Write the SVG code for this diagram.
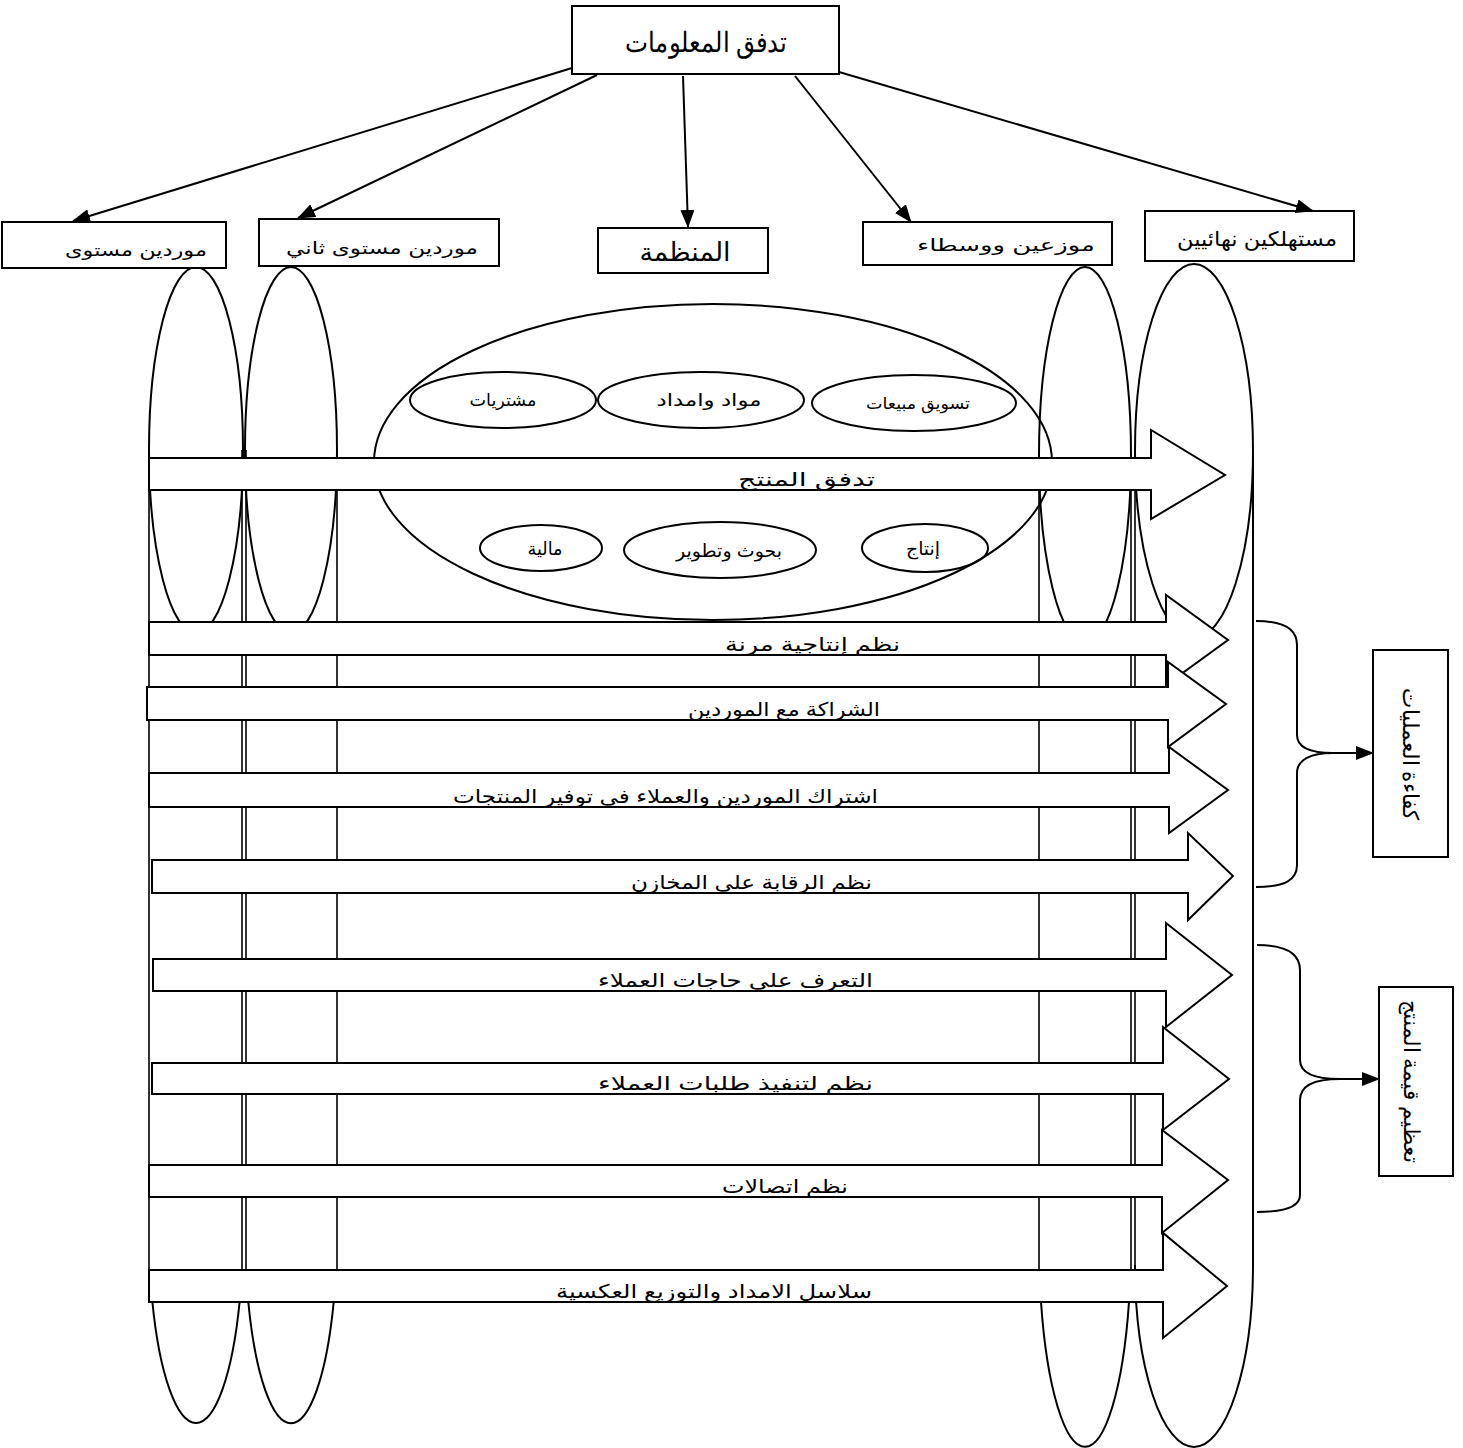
<svg xmlns="http://www.w3.org/2000/svg" width="1463" height="1448" viewBox="0 0 1463 1448">
  <style>
    .ln{fill:none;stroke:#000;stroke-width:2}
    .side{fill:none;stroke:#000;stroke-width:1.6}
    .box{fill:#fff;stroke:#000;stroke-width:2}
    .band{fill:#fff;stroke:#000;stroke-width:2;stroke-linejoin:miter}
    .t{font-family:'Liberation Sans','DejaVu Sans',sans-serif;fill:#000}
    .s{font-family:'Liberation Serif','DejaVu Serif',serif;fill:#000}
  </style>
  <defs>
    <marker id="ah" markerUnits="userSpaceOnUse" markerWidth="18" markerHeight="14" refX="17" refY="7" orient="auto">
      <path d="M0,0 L18,7 L0,14 z" fill="#000"/>
    </marker>
  </defs>
  <rect width="1463" height="1448" fill="#fff"/>

  <!-- supply-chain columns (tall ellipses with straight sides) -->
  <g id="col-tier1">
    <ellipse class="ln" cx="196" cy="450" rx="47" ry="183"/>
    <path class="side" d="M149,450 V1302 M242,450 V1302"/>
    <path class="ln" d="M152.4,1302 A47,193 0 0 0 239.6,1302"/>
  </g>
  <g id="col-tier2">
    <ellipse class="ln" cx="291" cy="450" rx="46" ry="183"/>
    <path class="side" d="M246,450 V1302 M337,450 V1302"/>
    <path class="ln" d="M248.3,1302 A46,193 0 0 0 333.7,1302"/>
  </g>
  <g id="col-distributors">
    <ellipse class="ln" cx="1085" cy="455" rx="46" ry="188"/>
    <path class="side" d="M1039,455 V1302 M1131,455 V1302"/>
    <path class="ln" d="M1041,1302 A46,204.5 0 0 0 1129,1302"/>
  </g>
  <g id="col-consumers">
    <ellipse class="ln" cx="1194" cy="451" rx="59" ry="187"/>
    <path class="side" d="M1135,451 V1302"/>
    <path class="ln" d="M1253,451 V1265"/>
    <path class="ln" d="M1253,1265 A59,182 0 0 1 1135,1265"/>
  </g>

  <!-- organisation and its functions -->
  <g id="org-functions">
    <ellipse class="ln" cx="713" cy="462" rx="339" ry="158"/>
  </g>
  <g id="fn-purchasing">
    <ellipse class="ln" cx="503" cy="400" rx="93" ry="28"/>
    <text class="t" x="503" y="406" font-size="17" text-anchor="middle" textLength="67" lengthAdjust="spacingAndGlyphs">مشتريات</text>
  </g>
  <g id="fn-logistics">
    <ellipse class="ln" cx="701" cy="400" rx="103" ry="28"/>
    <text class="t" x="709" y="406" font-size="17" text-anchor="middle" textLength="105" lengthAdjust="spacingAndGlyphs">مواد وامداد</text>
  </g>
  <g id="fn-marketing">
    <ellipse class="ln" cx="914" cy="403" rx="102" ry="28"/>
    <text class="t" x="918" y="409" font-size="16" text-anchor="middle" textLength="104" lengthAdjust="spacingAndGlyphs">تسويق مبيعات</text>
  </g>
  <g id="fn-finance">
    <ellipse class="ln" cx="541" cy="548" rx="61" ry="23"/>
    <text class="t" x="545" y="555" font-size="18" text-anchor="middle" textLength="35" lengthAdjust="spacingAndGlyphs">مالية</text>
  </g>
  <g id="fn-rnd">
    <ellipse class="ln" cx="720" cy="550" rx="96" ry="28"/>
    <text class="t" x="729" y="557" font-size="18" text-anchor="middle" textLength="106" lengthAdjust="spacingAndGlyphs">بحوث وتطوير</text>
  </g>
  <g id="fn-production">
    <ellipse class="ln" cx="925" cy="548" rx="63" ry="24"/>
    <text class="t" x="923" y="555" font-size="18" text-anchor="middle" textLength="34" lengthAdjust="spacingAndGlyphs">إنتاج</text>
  </g>

  <!-- block arrows across the chain -->
  <g id="flow-product">
    <path class="band" d="M149,458 H1151 V430 L1225,475 L1151,519 V490 H149 Z"/>
    <text class="t" x="875" y="486" font-size="19" text-anchor="end" textLength="137" lengthAdjust="spacingAndGlyphs">تدفق المنتج</text>
  </g>
  <g id="flow-flexible">
    <path class="band" d="M149,622 H1166 V595 L1228,640 L1166,685 V655 H149 Z"/>
    <text class="t" x="900" y="651" font-size="19" text-anchor="end" textLength="175" lengthAdjust="spacingAndGlyphs">نظم إنتاجية مرنة</text>
  </g>
  <g id="flow-partnership">
    <path class="band" d="M147,687 H1168 V662 L1226,704 L1168,747 V720 H147 Z"/>
    <text class="t" x="880" y="716" font-size="19" text-anchor="end" textLength="192" lengthAdjust="spacingAndGlyphs">الشراكة مع الموردين</text>
  </g>
  <g id="flow-sharing">
    <path class="band" d="M149,773 H1169 V747 L1228,790 L1169,833 V807 H149 Z"/>
    <text class="t" x="878" y="803" font-size="19" text-anchor="end" textLength="425" lengthAdjust="spacingAndGlyphs">اشتراك الموردين والعملاء في توفير المنتجات</text>
  </g>
  <g id="flow-inventory">
    <path class="band" d="M152,860 H1188 V833 L1233,876 L1188,920 V893 H152 Z"/>
    <text class="t" x="872" y="889" font-size="19" text-anchor="end" textLength="241" lengthAdjust="spacingAndGlyphs">نظم الرقابة على المخازن</text>
  </g>
  <g id="flow-needs">
    <path class="band" d="M153,959 H1166 V923 L1232,975 L1166,1027 V991 H153 Z"/>
    <text class="t" x="873" y="987" font-size="19" text-anchor="end" textLength="275" lengthAdjust="spacingAndGlyphs">التعرف على حاجات العملاء</text>
  </g>
  <g id="flow-orders">
    <path class="band" d="M152,1063 H1163 V1027 L1229,1079 L1163,1130 V1094 H152 Z"/>
    <text class="t" x="873" y="1090" font-size="19" text-anchor="end" textLength="275" lengthAdjust="spacingAndGlyphs">نظم لتنفيذ طلبات العملاء</text>
  </g>
  <g id="flow-comms">
    <path class="band" d="M149,1165 H1162 V1130 L1228,1180 L1162,1233 V1197 H149 Z"/>
    <text class="t" x="848" y="1193" font-size="19" text-anchor="end" textLength="126" lengthAdjust="spacingAndGlyphs">نظم اتصالات</text>
  </g>
  <g id="flow-reverse">
    <path class="band" d="M149,1270 H1163 V1233 L1227,1286 L1163,1338 V1302 H149 Z"/>
    <text class="t" x="872" y="1298" font-size="19" text-anchor="end" textLength="316" lengthAdjust="spacingAndGlyphs">سلاسل الامداد والتوزيع العكسية</text>
  </g>

  <!-- top row -->
  <g id="info-flow">
    <rect class="box" x="572" y="6" width="267" height="68"/>
    <text class="s" x="706" y="52" font-size="28" text-anchor="middle" textLength="162" lengthAdjust="spacingAndGlyphs">تدفق المعلومات</text>
  </g>
  <g id="tier1">
    <rect class="box" x="2" y="222" width="224" height="46"/>
    <text class="t" x="207" y="256" font-size="17" text-anchor="end" textLength="142" lengthAdjust="spacingAndGlyphs">موردين مستوى</text>
  </g>
  <g id="tier2">
    <rect class="box" x="259" y="219" width="240" height="47"/>
    <text class="t" x="478" y="254" font-size="17" text-anchor="end" textLength="192" lengthAdjust="spacingAndGlyphs">موردين مستوى ثاني</text>
  </g>
  <g id="organisation">
    <rect class="box" x="598" y="228" width="170" height="45"/>
    <text class="t" x="685" y="261" font-size="26" text-anchor="middle" textLength="91" lengthAdjust="spacingAndGlyphs">المنظمة</text>
  </g>
  <g id="distributors">
    <rect class="box" x="863" y="222" width="249" height="43"/>
    <text class="t" x="1095" y="251" font-size="17" text-anchor="end" textLength="178" lengthAdjust="spacingAndGlyphs">موزعين ووسطاء</text>
  </g>
  <g id="consumers">
    <rect class="box" x="1145" y="211" width="209" height="50"/>
    <text class="t" x="1337" y="246" font-size="20" text-anchor="end" textLength="160" lengthAdjust="spacingAndGlyphs">مستهلكين نهائيين</text>
  </g>

  <!-- outcome boxes -->
  <g id="ops-efficiency">
    <rect class="box" x="1373" y="650" width="75" height="207"/>
    <text class="s" transform="translate(1403,754) rotate(90)" font-size="22" text-anchor="middle" textLength="132" lengthAdjust="spacingAndGlyphs">كفاءة العمليات</text>
  </g>
  <g id="value-max">
    <rect class="box" x="1379" y="987" width="74" height="189"/>
    <text class="s" transform="translate(1404,1081) rotate(90)" font-size="22" text-anchor="middle" textLength="163" lengthAdjust="spacingAndGlyphs">تعظيم قيمة المنتج</text>
  </g>

  <!-- connectors -->
  <g id="connectors">
    <path class="ln" d="M572,68 L73,221" marker-end="url(#ah)"/>
    <path class="ln" d="M597,75 L298,218" marker-end="url(#ah)"/>
    <path class="ln" d="M683,76 L688,227" marker-end="url(#ah)"/>
    <path class="ln" d="M795,76 L911,222" marker-end="url(#ah)"/>
    <path class="ln" d="M839,72 L1313,211" marker-end="url(#ah)"/>

    <path class="ln" d="M1256,621 C1285,621 1297,630 1297,645 V735 C1297,748 1310,753 1333,753 C1310,753 1297,760 1297,773 V865 C1297,880 1285,887 1256,887"/>
    <path class="ln" d="M1333,753 H1373" marker-end="url(#ah)"/>
    <path class="ln" d="M1257,945 C1288,945 1300,955 1300,970 V1060 C1300,1073 1314,1079 1340,1079 C1314,1079 1300,1086 1300,1100 V1195 C1300,1206 1288,1212 1257,1212"/>
    <path class="ln" d="M1340,1079 H1379" marker-end="url(#ah)"/>
  </g>
</svg>
